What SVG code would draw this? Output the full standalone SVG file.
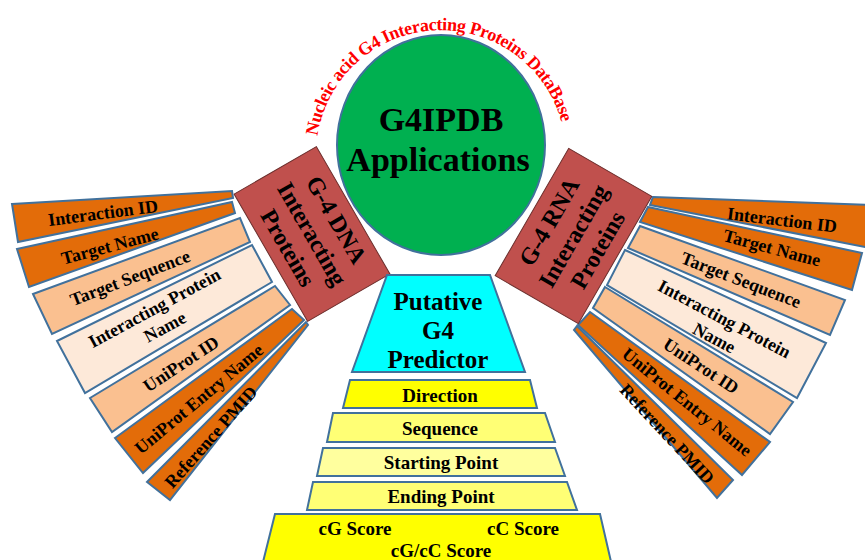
<svg xmlns="http://www.w3.org/2000/svg" width="865" height="560" viewBox="0 0 865 560">
<style>
.bar{stroke:#41719C;stroke-width:2;stroke-linejoin:miter}
.dk{fill:#E36C09}.lt{fill:#FAC090}.vl{fill:#FDE9D9}
.t{font-family:"Liberation Serif","Times New Roman",serif;font-weight:bold;fill:#000}
.bt{font-size:18px;text-anchor:middle}
.box{fill:#C0504D;stroke:#6B2F2D;stroke-width:1}
.tz{stroke:#41719C;stroke-width:2}
.ct{font-size:19px;text-anchor:middle}
</style>
<defs>
<path id="arc" d="M323.5,197.8 A125,125 0 1 1 558.5,197.8" fill="none"/>
</defs>
<rect width="865" height="560" fill="#fff"/>
<g id="connectors"/>

<!-- Left fan -->
<g id="L1"><polygon class="bar dk" points="12,204 232,191 233,198 18,242"/><text class="t bt" transform="translate(103,213) rotate(-7.5)" dy="0.33em">Interaction  ID</text></g>
<g id="L2"><polygon class="bar dk" points="17,249 232,202 235,213 29,287"/><text class="t bt" transform="translate(110,246) rotate(-15)" dy="0.33em">Target  Name</text></g>
<g id="L3"><polygon class="bar lt" points="33,294 240,218 250,242 52,334"/><text class="t bt" transform="translate(130,278) rotate(-21)" dy="0.33em">Target  Sequence</text></g>
<g id="L4"><polygon class="bar vl" points="57,341 252,245 272,282 85,393"/><text class="t bt" transform="translate(160,318) rotate(-28.5)"><tspan x="0" dy="-0.3em">Interacting  Protein</tspan><tspan x="0" dy="1.2em">Name</tspan></text></g>
<g id="L5"><polygon class="bar lt" points="90,398 275,286 290,305 112,432"/><text class="t bt" transform="translate(181,364) rotate(-33.4)" dy="0.33em">UniProt ID</text></g>
<g id="L6"><polygon class="bar dk" points="115,438 292,309 304,320 143,473"/><text class="t bt" transform="translate(199,399) rotate(-39.8)" dy="0.33em">UniProt  Entry Name</text></g>
<g id="L7"><polygon class="bar dk" points="147,482 306,322 308,325 170,500"/><text class="t bt" transform="translate(211,437) rotate(-48.4)" dy="0.33em">Reference PMID</text></g>

<!-- Right fan -->
<g id="R1"><polygon class="bar dk" points="653,197 870,205 870,248 650,205"/><text class="t bt" transform="translate(782,220) rotate(7)" dy="0.33em">Interaction  ID</text></g>
<g id="R2"><polygon class="bar dk" points="648,207 862,253 852,290 640,222"/><text class="t bt" transform="translate(772,248) rotate(15)" dy="0.33em">Target Name</text></g>
<g id="R3"><polygon class="bar lt" points="640,226 845,300 830,335 628,248"/><text class="t bt" transform="translate(741,280) rotate(21)" dy="0.33em">Target Sequence</text></g>
<g id="R4"><polygon class="bar vl" points="625,250 826,343 797,398 607,285"/><text class="t bt" transform="translate(719,329) rotate(28)"><tspan x="0" dy="-0.3em">Interacting  Protein</tspan><tspan x="0" dy="1.2em">Name</tspan></text></g>
<g id="R5"><polygon class="bar lt" points="605,287 793,402 770,434 593,308"/><text class="t bt" transform="translate(701,366) rotate(33.4)" dy="0.33em">UniProt  ID</text></g>
<g id="R6"><polygon class="bar dk" points="590,312 770,442 742,475 578,325"/><text class="t bt" transform="translate(687,402) rotate(39)" dy="0.33em">UniProt  Entry  Name</text></g>
<g id="R7"><polygon class="bar dk" points="577,326 733,480 717,498 574,330"/><text class="t bt" transform="translate(667,434) rotate(47)" dy="0.33em">Reference PMID</text></g>

<!-- DNA / RNA boxes -->
<g id="dna" transform="translate(312,234) rotate(60)">
<rect class="box" x="-73.5" y="-47.5" width="147" height="95"/>
<text class="t" font-size="24" text-anchor="middle"><tspan x="0" y="-28" dy="0.33em">G-4 DNA</tspan><tspan x="0" y="0" dy="0.33em">Interacting</tspan><tspan x="0" y="28" dy="0.33em">Proteins</tspan></text>
</g>
<g id="rna" transform="translate(573.5,236) rotate(-60)">
<rect class="box" x="-73.5" y="-48" width="147" height="96"/>
<text class="t" font-size="24" text-anchor="middle"><tspan x="0" y="-28" dy="0.33em">G-4 RNA</tspan><tspan x="0" y="0" dy="0.33em">Interacting</tspan><tspan x="0" y="28" dy="0.33em">Proteins</tspan></text>
</g>

<!-- Central circle -->
<g id="hub">
<ellipse cx="441" cy="145" rx="104" ry="110" fill="#00B050" stroke="#41719C" stroke-width="2"/>
<text class="t" font-size="34" text-anchor="middle"><tspan x="441" y="131">G4IPDB</tspan><tspan x="438" y="171">Applications</tspan></text>
</g>
<g id="title">
<text class="t" font-size="18" letter-spacing="-0.4" style="fill:#FF0000"><textPath href="#arc" startOffset="48.5%" text-anchor="middle">Nucleic acid G4 Interacting Proteins DataBase</textPath></text>
</g>

<!-- Center stack -->
<g id="predictor"><polygon class="tz" fill="#00FFFF" points="387,275 490,275 525,372 352,372"/>
<text class="t" font-size="25" text-anchor="middle"><tspan x="438" y="310">Putative</tspan><tspan x="438" y="339">G4</tspan><tspan x="438" y="368">Predictor</tspan></text></g>
<g id="direction"><polygon class="tz" fill="#FFFF00" points="350,380 530,380 537,408 343,408"/><text class="t ct" x="440" y="402">Direction</text></g>
<g id="sequence"><polygon class="tz" fill="#FFFF75" points="333,413 545,413 555,442 327,442"/><text class="t ct" x="440" y="435">Sequence</text></g>
<g id="starting"><polygon class="tz" fill="#FFFF9E" points="323,448 555,448 565,476 317,476"/><text class="t ct" x="441" y="469">Starting  Point</text></g>
<g id="ending"><polygon class="tz" fill="#FFFF75" points="313,482 567,482 577,510 307,510"/><text class="t ct" x="441" y="503">Ending  Point</text></g>
<g id="scores"><polygon class="tz" fill="#FFFF00" points="275,514 600,514 612,566 262,566"/>
<text class="t ct" x="355" y="535">cG Score</text><text class="t ct" x="523" y="535">cC Score</text><text class="t ct" x="441" y="557">cG/cC Score</text></g>
</svg>
